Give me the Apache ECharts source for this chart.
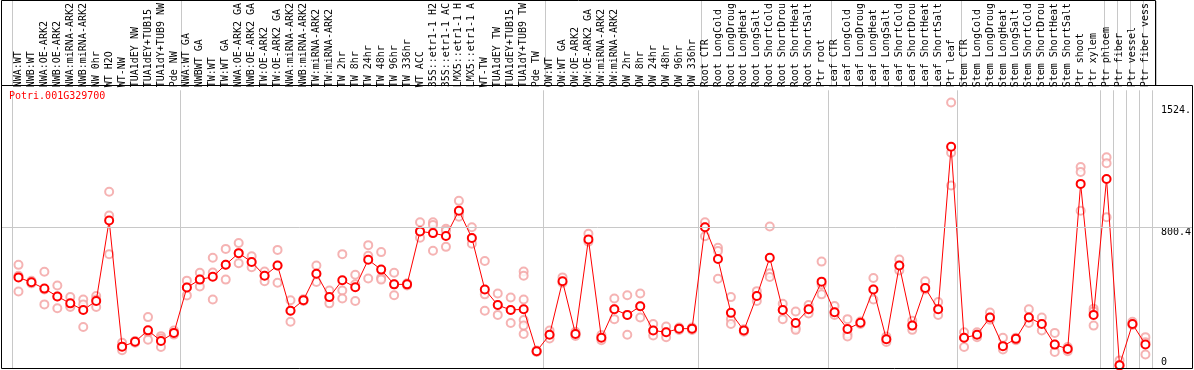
<!DOCTYPE html>
<html><head><meta charset="utf-8">
<script src="https://cdn.jsdelivr.net/npm/echarts@6/dist/echarts.min.js"></script>
<style>html,body{margin:0;padding:0;background:#fff;}#c{width:1194px;height:370px;}</style>
</head><body><div id="c"></div>
<script>
const geneTitle = 'Potri.001G329700';
const categories = [
 'NWA:WT','NWB:WT','NWA:OE-ARK2','NWB:OE-ARK2','NWA:miRNA-ARK2','NWB:miRNA-ARK2','NW 0hr','WT H2O','WT-NW','TUA1dEY NW','TUA1dEY+TUB15','TUA1dY+TUB9 NW','Pde NW',
 'NWA:WT GA','NWBWT GA','TW:WT','TW:WT GA','NWA:OE-ARK2 GA','NWB:OE-ARK2 GA','TW:OE-ARK2','TW:OE-ARK2 GA','NWA:miRNA-ARK2','NWB:miRNA-ARK2','TW:miRNA-ARK2','TW:miRNA-ARK2','TW 2hr','TW 8hr','TW 24hr','TW 48hr','TW 96hr','TW 336hr','WT ACC','35S::etr1-1 H2','35S::etr1-1 AC','LMX5::etr1-1 H','LMX5::etr1-1 A','WT-TW','TUA1dEY TW','TUA1dEY+TUB15','TUA1dY+TUB9 TW','Pde TW',
 'OW:WT','OW:WT GA','OW:OE-ARK2','OW:OE-ARK2 GA','OW:miRNA-ARK2','OW:miRNA-ARK2','OW 2hr','OW 8hr','OW 24hr','OW 48hr','OW 96hr','OW 336hr',
 'Root CTR','Root LongCold','Root LongDroug','Root LongHeat','Root LongSalt','Root ShortCold','Root ShortDrou','Root ShortHeat','Root ShortSalt','Ptr root',
 'Leaf CTR','Leaf LongCold','Leaf LongDroug','Leaf LongHeat','Leaf LongSalt','Leaf ShortCold','Leaf ShortDrou','Leaf ShortHeat','Leaf ShortSalt','Ptr leaf',
 'Stem CTR','Stem LongCold','Stem LongDroug','Stem LongHeat','Stem LongSalt','Stem ShortCold','Stem ShortDrou','Stem ShortHeat','Stem ShortSalt','Ptr shoot','Ptr xylem',
 'Ptr phloem','Ptr fiber','Ptr vessel','Ptr fiber vess'
];
const means = [
 520,491,454,408,367,328,381,855,112,141,208,145,193,
 460,507,524,595,663,611,530,590,323,386,541,404,503,462,624,566,479,479,791,781,764,913,752,449,357,328,332,85,
 182,497,187,744,164,332,299,350,207,197,218,218,
 816,628,311,207,410,636,328,251,332,495,
 315,216,253,449,156,590,236,458,332,1290,
 164,182,284,115,158,284,245,124,98,1071,299,
 1100,2,245,125
];
const replicates = [
 [594,530,437],[500,485,490],[553,449,361],[472,408,338],[404,355,346],[390,361,228],[410,390,346],[1025,884,657],[135,112,91],[145,143,135],[286,196,153],[174,160,110],[207,193,183],
 [501,460,414],[547,507,466],[636,549,390],[688,595,507],[723,663,603],[644,611,580],[555,530,497],[682,590,489],[385,323,259],[392,386,381],[590,541,493],[443,404,367],[657,443,396],[536,479,381],[710,648,514],[669,518,507],[547,479,415],[485,479,473],[845,791,754],[845,829,677],[806,795,700],[971,900,878],[816,752,719],[617,420,323],[425,357,299],[402,328,251],[555,530,390,269,236,187],[90,85,80],
 [207,182,160],[520,488],[200,187,175],[777,730],[180,164,150],[396,332,274],[415,299,182],[425,350,284],[245,207,178],[231,197,168],[225,218,210],[225,218,210],
 [845,816,762],[694,675,512],[404,274,245],[215,207,200],[439,410,381],[820,545,522],[365,328,274],[319,222,211],[357,332,307],[613,478,420],
 [352,315,298],[274,187,172],[260,253,245],[516,449,390],[172,156,140],[626,590,561],[264,236,211],[497,458,449],[375,332,298],[1551,1255,1061],
 [197,164,110],[197,182,168],[313,284,270],[164,115,95],[165,158,150],[332,284,251],[284,245,207],[193,124,81],[110,98,85],[1170,1141,913],[336,320,236],
 [1228,1193,874],[31,2,0],[259,245,240],[168,138,66]
];
const groupStarts = [0,13,41,53,63,73,84,85,86,87];
const yTickValues = [0, 800.4, 1524];
const yTickLabels = ['0','800.4','1524.'];
const yGridValue = 800.4;
const yMin = -19.7, yMax = 1622.5;

const FONT = 'DejaVu Sans Mono';
const repPoints = [];
replicates.forEach((arr, i) => arr.forEach(v => repPoints.push([i, v])));
const sepFn = (idx) => groupStarts.indexOf(idx) >= 0;

const chart = echarts.init(document.getElementById('c'), null, {renderer: 'canvas'});
chart.setOption({
  animation: false,
  backgroundColor: '#fff',
  title: {text: geneTitle, left: 9, top: 91, padding: 0,
    textStyle: {color: '#ff0000', fontSize: 10, fontWeight: 'normal', fontFamily: FONT}},
  grid: [
    {left: 12, width: 1144, top: 86, bottom: 1},
    {left: 12, width: 1144, top: 1, height: 84},
    {left: 2, right: 1, top: 86, bottom: 1}
  ],
  xAxis: [
    {type: 'category', gridIndex: 0, position: 'top', data: categories, boundaryGap: true,
     axisLine: {show: false}, axisTick: {show: false},
     axisLabel: {interval: 0, rotate: 90, margin: 3, fontSize: 10, fontFamily: FONT, color: '#000'},
     splitLine: {show: true, interval: sepFn, lineStyle: {color: '#c8c8c8', width: 1}}},
    {type: 'category', gridIndex: 1, data: categories, boundaryGap: true,
     axisLine: {show: false}, axisTick: {show: false}, axisLabel: {show: false},
     splitLine: {show: true, interval: sepFn, lineStyle: {color: '#c8c8c8', width: 1}}},
    {type: 'value', gridIndex: 2, min: 0, max: 1, show: false}
  ],
  yAxis: [
    {type: 'value', gridIndex: 0, position: 'right', min: yMin, max: yMax,
     axisLine: {show: false}, axisTick: {show: false, customValues: yTickValues},
     splitLine: {show: false},
     axisLabel: {show: true, margin: 9, customValues: yTickValues, fontSize: 10, fontFamily: FONT, color: '#000',
       formatter: (v) => {
         const i = yTickValues.indexOf(v);
         const t = i >= 0 ? yTickLabels[i] : String(v);
         return v === 0 ? '{b|' + t + '}' : '{t|' + t + '}';
       },
       rich: {t: {fontSize: 10, fontFamily: FONT, color: '#000', padding: [6, 0, 0, 0]},
              b: {fontSize: 10, fontFamily: FONT, color: '#000', padding: [0, 0, 7, 0]}}}},
    {type: 'value', gridIndex: 1, show: false, min: 0, max: 1},
    {type: 'value', gridIndex: 2, show: false, min: yMin, max: yMax}
  ],
  series: [
    {type: 'line', xAxisIndex: 2, yAxisIndex: 2, data: [], z: 0, silent: true,
     markLine: {silent: true, symbol: 'none', label: {show: false},
       lineStyle: {color: '#c8c8c8', type: 'solid', width: 1},
       data: [{yAxis: yGridValue}]}},
    {type: 'scatter', xAxisIndex: 0, yAxisIndex: 0, data: repPoints, z: 2,
     symbol: 'emptyCircle', symbolSize: 8,
     itemStyle: {color: '#f2a0a0', borderColor: '#f2a0a0', borderWidth: 1.2}},
    {type: 'line', xAxisIndex: 0, yAxisIndex: 0, data: means, z: 3,
     symbol: 'emptyCircle', symbolSize: 8, showAllSymbol: true,
     lineStyle: {color: '#ff0000', width: 1},
     itemStyle: {color: '#ff0000', borderColor: '#ff0000', borderWidth: 1.8}}
  ],
  graphic: [
    {type: 'rect', z: 100, silent: true, shape: {x: 1.5, y: 0.5, width: 1154, height: 85},
     style: {fill: null, stroke: '#000', lineWidth: 1}},
    {type: 'rect', z: 100, silent: true, shape: {x: 1.5, y: 85.5, width: 1191, height: 283},
     style: {fill: null, stroke: '#000', lineWidth: 1}}
  ]
});
</script></body></html>
